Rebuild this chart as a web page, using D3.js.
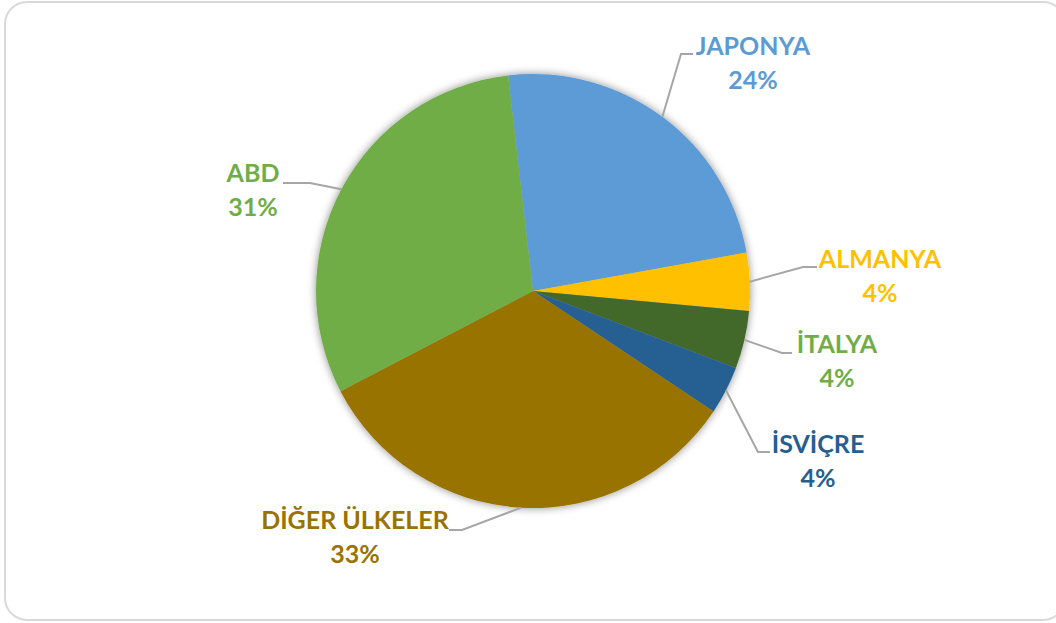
<!DOCTYPE html>
<html>
<head>
<meta charset="utf-8">
<script src="https://cdn.jsdelivr.net/npm/d3@7"></script>
<style>
  html, body { margin: 0; padding: 0; background: #fff; }
  svg { display: block; }
  .lbl { font-family: Lato, "Noto Sans", sans-serif; font-weight: 700; font-size: 25px; }
</style>
</head>
<body>
<svg id="chart" width="1056" height="623"></svg>
<script>
// data (percent)
const categories = ["JAPONYA", "ALMANYA", "İTALYA", "İSVİÇRE", "DİĞER ÜLKELER", "ABD"];
const values = [24, 4.3, 4.3, 3.6, 33, 30.8];
const sliceColors = ["#5B9BD5", "#FFC000", "#43682B", "#255E91", "#997300", "#70AD47"];
const labelColors = ["#5B9BD5", "#FFC000", "#70AD47", "#255E91", "#997300", "#70AD47"];

// label layout: elbow of leader line, end of leader line, text centre + first baseline
const labelLayout = [
  { elbow: [681, 54], end: [693, 54], tx: 753, ty: 55 },
  { elbow: [803, 267], end: [817, 267], tx: 880, ty: 268 },
  { elbow: [782, 353], end: [792, 353], tx: 837, ty: 353 },
  { elbow: [758, 452], end: [770, 452], tx: 818, ty: 453 },
  { elbow: [462, 530], end: [449, 530], tx: 355, ty: 529 },
  { elbow: [310, 183], end: [283, 183], tx: 253, ty: 182 }
];

const width = 1056, height = 623;
const cx = 533, cy = 291, radius = 217;
const startOffset = -6.6 * Math.PI / 180;

const svg = d3.select("#chart");

// outer frame
svg.append("rect")
  .attr("x", 5).attr("y", 2)
  .attr("width", 1060).attr("height", 618)
  .attr("rx", 22).attr("ry", 22)
  .attr("fill", "#fff")
  .attr("stroke", "#d9d9d9")
  .attr("stroke-width", 2);

const defs = svg.append("defs");
const shadow = defs.append("filter").attr("id", "soft")
  .attr("x", "-20%").attr("y", "-20%").attr("width", "140%").attr("height", "140%");
shadow.append("feDropShadow")
  .attr("dx", 0).attr("dy", 0)
  .attr("stdDeviation", 4)
  .attr("flood-color", "#000")
  .attr("flood-opacity", 0.45);

const data = categories.map((c, i) => ({ name: c, value: values[i], i }));

const pie = d3.pie()
  .value(d => d.value)
  .sort(null)
  .startAngle(startOffset)
  .endAngle(startOffset + 2 * Math.PI);

const arc = d3.arc().innerRadius(0).outerRadius(radius);
const arcs = pie(data);

const g = svg.append("g").attr("transform", `translate(${cx},${cy})`);

g.append("g").attr("filter", "url(#soft)")
  .selectAll("path")
  .data(arcs)
  .join("path")
  .attr("d", arc)
  .attr("fill", d => sliceColors[d.data.i]);

// leader lines
const line = d3.line();
svg.append("g").selectAll("path")
  .data(arcs)
  .join("path")
  .attr("fill", "none")
  .attr("stroke", "#a6a6a6")
  .attr("stroke-width", 2)
  .attr("d", d => {
    const a = (d.startAngle + d.endAngle) / 2;
    const p0 = [cx + radius * Math.sin(a), cy - radius * Math.cos(a)];
    const L = labelLayout[d.data.i];
    return line([p0, L.elbow, L.end]);
  });

const fmt = v => Math.round(v) + "%";

const labels = svg.append("g").selectAll("text")
  .data(arcs)
  .join("text")
  .attr("class", "lbl")
  .attr("text-anchor", "middle")
  .attr("fill", d => labelColors[d.data.i])
  .attr("x", d => labelLayout[d.data.i].tx)
  .attr("y", d => labelLayout[d.data.i].ty);

labels.append("tspan")
  .attr("x", d => labelLayout[d.data.i].tx)
  .text(d => d.data.name);
labels.append("tspan")
  .attr("x", d => labelLayout[d.data.i].tx)
  .attr("dy", 34)
  .text(d => fmt(d.data.value));
</script>
</body>
</html>
